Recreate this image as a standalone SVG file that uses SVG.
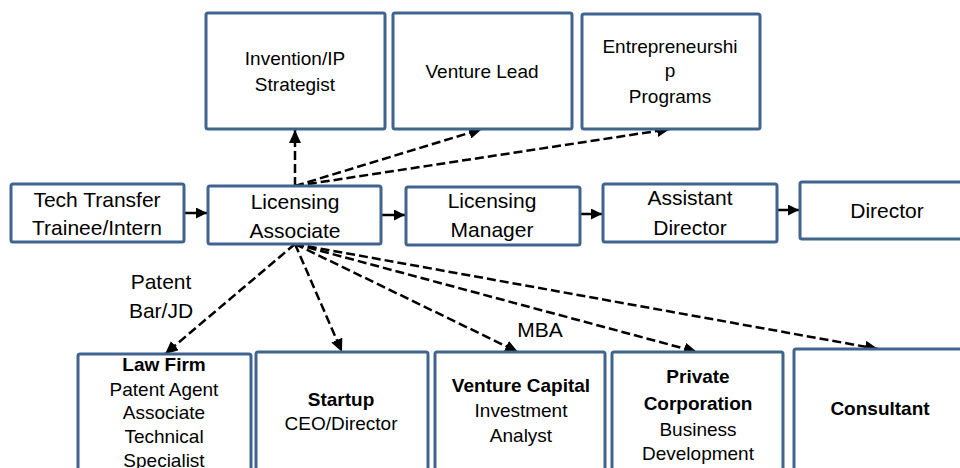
<svg xmlns="http://www.w3.org/2000/svg" width="960" height="468" viewBox="0 0 960 468">
<style>
.box{fill:#fff;stroke:#41648F;stroke-width:3}
text{font-family:"Liberation Sans",Arial,sans-serif;fill:#000;text-anchor:middle}
.t21{font-size:21px}
.t19{font-size:19px}
.t18{font-size:19px}
.b{font-weight:bold}
.solid{stroke:#000;stroke-width:2.5;fill:none}
.dash{stroke:#000;stroke-width:2.5;fill:none;stroke-dasharray:9 4}
</style>
<defs>
<marker id="ah" markerUnits="userSpaceOnUse" markerWidth="14" markerHeight="12" refX="13" refY="6" orient="auto">
<path d="M0,0 L13,6 L0,12 z" fill="#000"/>
</marker>
<marker id="sh" markerUnits="userSpaceOnUse" markerWidth="12" markerHeight="12" refX="11" refY="5.5" orient="auto">
<path d="M0,0 L11,5.5 L0,11 z" fill="#000"/>
</marker>
</defs>
<rect width="960" height="468" fill="#fff"/>
<g id="connectors">
<line class="solid" x1="184" y1="213" x2="207" y2="213" marker-end="url(#sh)"/>
<line class="solid" x1="381" y1="215" x2="405" y2="215" marker-end="url(#sh)"/>
<line class="solid" x1="580" y1="214" x2="602" y2="214" marker-end="url(#sh)"/>
<line class="solid" x1="777" y1="210" x2="799" y2="210" marker-end="url(#sh)"/>
<line class="dash" x1="295" y1="186" x2="295" y2="130" marker-end="url(#ah)"/>
<line class="dash" x1="295" y1="186" x2="482" y2="129" marker-end="url(#ah)"/>
<line class="dash" x1="295" y1="186" x2="670" y2="129" marker-end="url(#ah)"/>
<line class="dash" x1="295" y1="244" x2="165" y2="354" marker-end="url(#ah)"/>
<line class="dash" x1="295" y1="244" x2="342" y2="352" marker-end="url(#ah)"/>
<line class="dash" x1="295" y1="244" x2="518" y2="352" marker-end="url(#ah)"/>
<line class="dash" x1="295" y1="244" x2="697" y2="352" marker-end="url(#ah)"/>
<line class="dash" x1="295" y1="244" x2="878" y2="349" marker-end="url(#ah)"/>
</g>
<g id="tech-transfer">
<rect class="box" x="11" y="184" width="173" height="58" rx="2"/>
<text class="t21" x="97" y="207">Tech Transfer</text>
<text class="t21" x="97" y="235">Trainee/Intern</text>
</g>
<g id="licensing-associate">
<rect class="box" x="208" y="186" width="173" height="58" rx="2"/>
<text class="t21" x="295" y="209">Licensing</text>
<text class="t21" x="295" y="238">Associate</text>
</g>
<g id="licensing-manager">
<rect class="box" x="406" y="187" width="174" height="58" rx="2"/>
<text class="t21" x="492" y="208">Licensing</text>
<text class="t21" x="492" y="237">Manager</text>
</g>
<g id="assistant-director">
<rect class="box" x="603" y="184" width="174" height="58" rx="2"/>
<text class="t21" x="690" y="205">Assistant</text>
<text class="t21" x="690" y="235">Director</text>
</g>
<g id="director">
<rect class="box" x="800" y="182" width="200" height="57" rx="2"/>
<text class="t21" x="887" y="218">Director</text>
</g>
<g id="invention-ip">
<rect class="box" x="206" y="13" width="179" height="116" rx="2"/>
<text class="t19" x="295" y="65">Invention/IP</text>
<text class="t19" x="295" y="91">Strategist</text>
</g>
<g id="venture-lead">
<rect class="box" x="393" y="13" width="179" height="116" rx="2"/>
<text class="t19" x="482" y="78">Venture Lead</text>
</g>
<g id="entrepreneurship">
<rect class="box" x="582" y="14" width="178" height="115" rx="2"/>
<text class="t19" x="670" y="53">Entrepreneurshi</text>
<text class="t19" x="670" y="77">p</text>
<text class="t19" x="670" y="103">Programs</text>
</g>
<g id="label-patent">
<text class="t21" x="161" y="289">Patent</text>
<text class="t21" x="161" y="318">Bar/JD</text>
</g>
<g id="label-mba">
<text class="t21" x="540" y="337">MBA</text>
</g>
<g id="law-firm">
<rect class="box" x="78" y="354" width="173" height="140" rx="2"/>
<text class="t18 b" x="164" y="371">Law Firm</text>
<text class="t18" x="164" y="396">Patent Agent</text>
<text class="t18" x="164" y="419">Associate</text>
<text class="t18" x="164" y="443">Technical</text>
<text class="t18" x="164" y="467">Specialist</text>
</g>
<g id="startup">
<rect class="box" x="256" y="352" width="172" height="140" rx="2"/>
<text class="t18 b" x="341" y="406">Startup</text>
<text class="t18" x="341" y="430">CEO/Director</text>
</g>
<g id="venture-capital">
<rect class="box" x="435" y="352" width="170" height="140" rx="2"/>
<text class="t18 b" x="521" y="392">Venture Capital</text>
<text class="t18" x="521" y="417">Investment</text>
<text class="t18" x="521" y="442">Analyst</text>
</g>
<g id="private-corporation">
<rect class="box" x="612" y="352" width="171" height="140" rx="2"/>
<text class="t18 b" x="698" y="383">Private</text>
<text class="t18 b" x="698" y="410">Corporation</text>
<text class="t18" x="698" y="436">Business</text>
<text class="t18" x="698" y="460">Development</text>
</g>
<g id="consultant">
<rect class="box" x="794" y="349" width="200" height="140" rx="2"/>
<text class="t18 b" x="880" y="415">Consultant</text>
</g>
</svg>
